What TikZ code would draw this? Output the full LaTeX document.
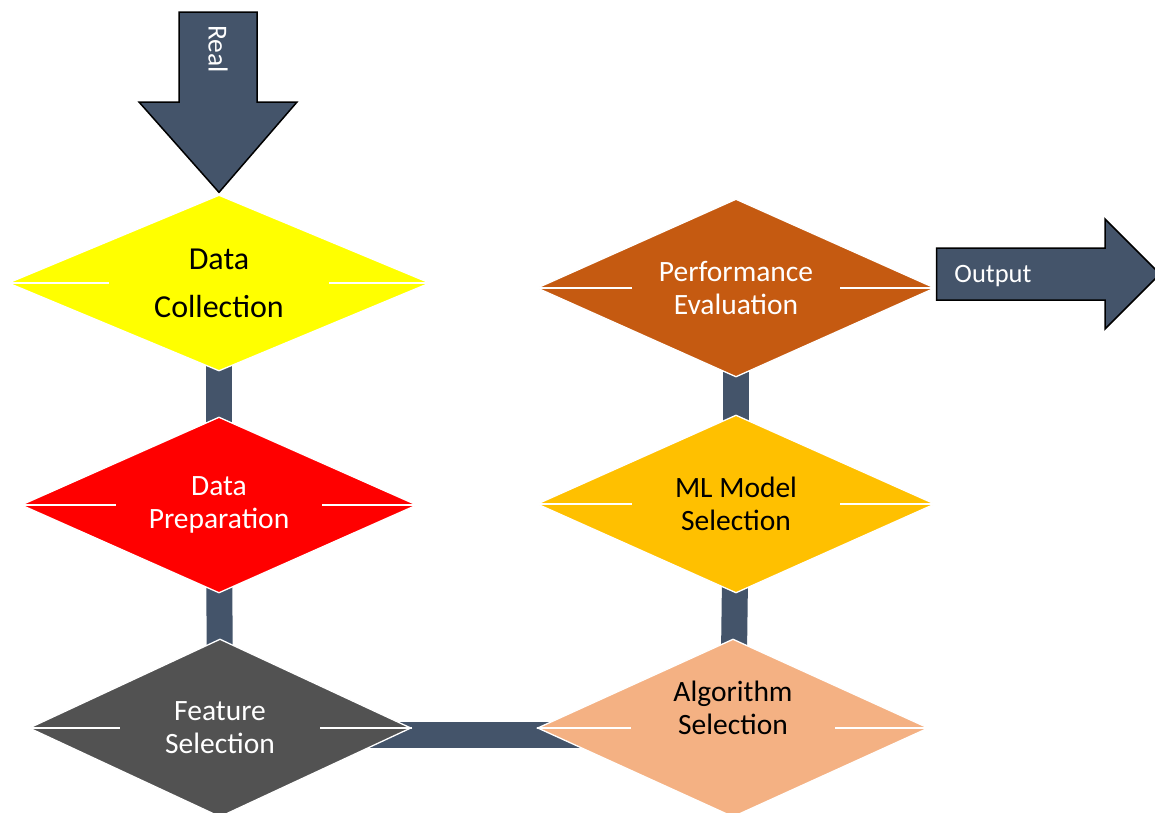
\documentclass[tikz,border=0pt]{standalone}
\usepackage{fontspec}
\setmainfont{Carlito}
\usetikzlibrary{shapes.geometric,backgrounds,calc}
\definecolor{slate}{HTML}{44546A}
\definecolor{dcyellow}{HTML}{FFFF00}
\definecolor{dpred}{HTML}{FF0000}
\definecolor{fsgray}{HTML}{525252}
\definecolor{aspeach}{HTML}{F4B183}
\definecolor{mlgold}{HTML}{FFC000}
\definecolor{perust}{HTML}{C55A11}
\begin{document}
\begin{tikzpicture}[x=1pt,y=-1pt,
  dia/.style={diamond, aspect=2.2, draw=white, line width=1.3pt, inner sep=0pt, align=center,
    font=\fontsize{29.5}{33}\selectfont},
  diatext/.style={align=center, inner sep=0pt, font=\fontsize{29.5}{33}\selectfont},
  bar/.style={draw=slate, line width=26pt},
  wl/.style={draw=white, line width=2.8pt},
  bigarrow/.style={fill=slate, draw=black, line width=1.5pt, line join=miter},
  arrowtext/.style={text=white, font=\fontsize{26.5}{30}\selectfont, inner sep=0pt}
]
\useasboundingbox (0,0) rectangle (1155,812);
\clip (0,0) rectangle (1155,812);

% diamonds
\node[dia, fill=dcyellow, minimum width=422pt, minimum height=176pt, font=\fontsize{32}{48}\selectfont] (dc) at (219,283) {Data\\Collection};
\node[dia, fill=dpred, text=white, minimum width=396pt, minimum height=176pt] (dp) at (219,505) {Data\\Preparation};
\node[dia, fill=fsgray, text=white, minimum width=382pt, minimum height=178pt] (fs) at (220,728) {Feature\\Selection};
\node[dia, fill=perust, text=white, minimum width=398pt, minimum height=178pt] (pe) at (736,288) {Performance\\Evaluation};
\node[dia, fill=mlgold, minimum width=398pt, minimum height=178pt] (ml) at (736,504) {ML Model\\Selection};
\node[dia, fill=aspeach, minimum width=391pt, minimum height=178pt] (as) at (733,728) {};
\node[diatext] (astext) at ([yshift=20pt]as.center) {Algorithm\\Selection};

% connector bars behind diamonds
\begin{scope}[on background layer]
  \draw[bar] (dc.center) -- (dp.center);
  \draw[bar] (dp.center) -- (fs.center);
  \draw[bar] ([yshift=-7pt]fs.center) -- ([yshift=-7pt]as.center);
  \draw[bar] (as.center) -- (ml.center);
  \draw[bar] (ml.center) -- (pe.center);
\end{scope}

% white middle lines
\foreach \n in {dc,dp,fs,pe,ml,as}{
  \draw[wl] (\n.west) -- ($(\n.west)!0.24!(\n.east)$);
  \draw[wl] (\n.east) -- ($(\n.east)!0.24!(\n.west)$);
}

% input arrow
\coordinate (realtip) at ([yshift=2pt]dc.north);
\draw[bigarrow] (179,12) -- (257,12) -- (257,102) -- (297,102) -- (realtip) -- (139,102) -- (179,102) -- cycle;
\node[arrowtext, rotate=-90, font=\fontsize{27.5}{30}\selectfont] (real) at (218,49) {Real};

% output arrow
\coordinate (outstart) at ([xshift=1pt]pe.east);
\draw[bigarrow] (outstart |- 0,248) -- (1105,248) -- (1105,219) -- (1160,274) -- (1105,329) -- (1105,300) -- (outstart |- 0,300) -- cycle;
\node[arrowtext] (output) at (993,276) {Output};
\end{tikzpicture}
\end{document}
